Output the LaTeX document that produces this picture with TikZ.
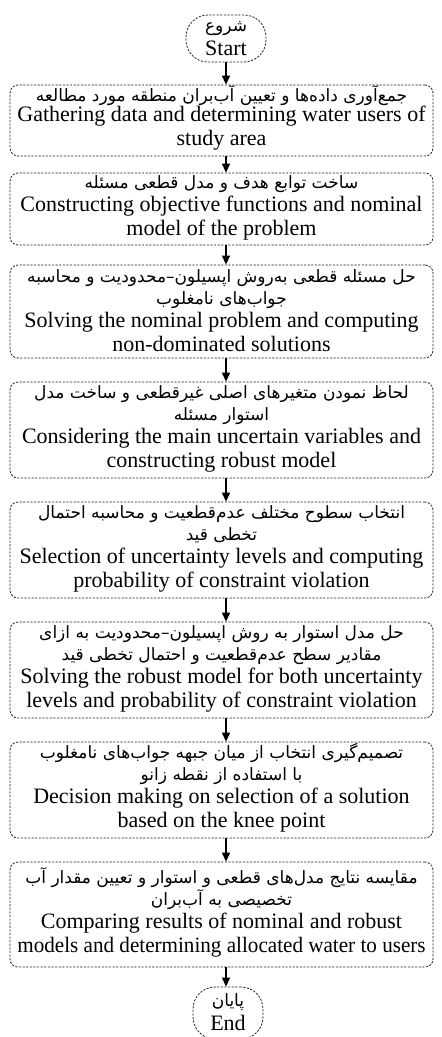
\documentclass[tikz,border=0pt]{standalone}
\usepackage{fontspec}
\setmainfont{Liberation Serif}
\newfontfamily\persianfont[Script=Arabic]{DejaVu Sans}
\TeXXeTstate=1
\usetikzlibrary{arrows.meta}
\newcommand{\FA}[1]{\rule[-6pt]{0pt}{17pt}\smash{\persianfont\fontsize{17}{20}\selectfont\beginR #1\endR}}
\tikzset{
  stepbox/.style={draw=black!85, dash pattern=on 2.2pt off 1.4pt, line width=0.8pt,
    rounded corners=8pt, minimum width=423pt, align=center, inner sep=0pt,
    font=\fontsize{22}{24}\selectfont},
  termbox/.style={draw=black!85, dash pattern=on 2.2pt off 1.4pt, line width=0.8pt,
    rounded corners=22pt, align=center, inner sep=0pt,
    font=\fontsize{22}{24}\selectfont},
  flow/.style={-{Triangle[length=9pt,width=8pt]}, line width=1.2pt}
}
\begin{document}
\begin{tikzpicture}[x=1pt,y=-1pt]
\useasboundingbox (0,0) rectangle (442,1037);
\node[termbox, minimum width=80pt, minimum height=47pt] (start) at (226,38.5)
  {\FA{شروع}\\Start};
\node[stepbox, minimum height=71pt] (b1) at (221.5,120.5)
  {\FA{جمع‌آوری داده‌ها و تعیین آب‌بران منطقه مورد مطالعه}\\[-4pt]Gathering data and determining water users of\\study area};
\node[stepbox, minimum height=72pt] (b2) at (221.5,209)
  {\FA{ساخت توابع هدف و مدل قطعی مسئله}\\[-1pt]Constructing objective functions and nominal\\model of the problem};
\node[stepbox, minimum height=93pt] (b3) at (221.5,311.5)
  {\FA{حل مسئله قطعی به‌روش اپسیلون–محدودیت و محاسبه}\\[-2pt]\FA{جواب‌های نامغلوب}\\[-1pt]Solving the nominal problem and computing\\non-dominated solutions};
\node[stepbox, minimum height=96pt] (b4) at (221.5,430)
  {\FA{لحاظ نمودن متغیرهای اصلی غیرقطعی و ساخت مدل}\\[-2pt]\FA{استوار مسئله}\\[-1pt]Considering the main uncertain variables and\\constructing robust model};
\node[stepbox, minimum height=96pt] (b5) at (221.5,550)
  {\FA{انتخاب سطوح مختلف عدم‌قطعیت و محاسبه احتمال}\\[-2pt]\FA{تخطی قید}\\[-1pt]Selection of uncertainty levels and computing\\probability of constraint violation};
\node[stepbox, minimum height=96pt] (b6) at (221.5,670)
  {\FA{حل مدل استوار به روش اپسیلون–محدودیت به ازای}\\[-2pt]\FA{مقادیر سطح عدم‌قطعیت و احتمال تخطی قید}\\[-1pt]Solving the robust model for both uncertainty\\levels and probability of constraint violation};
\node[stepbox, minimum height=96pt] (b7) at (221.5,790)
  {\FA{تصمیم‌گیری انتخاب از میان جبهه جواب‌های نامغلوب}\\[-2pt]\FA{با استفاده از نقطه زانو}\\[-1pt]Decision making on selection of a solution\\based on the knee point};
\node[stepbox, minimum height=105pt] (b8) at (221.5,914.5)
  {\FA{مقایسه نتایج مدل‌های قطعی و استوار و تعیین مقدار آب}\\[-2pt]\FA{تخصیصی به آب‌بران}\\[-1pt]Comparing results of nominal and robust\\\scalebox{0.96}[1]{models and determining allocated water to users}};
\node[termbox, minimum width=70pt, minimum height=52pt] (end) at (228,1013)
  {\FA{پایان}\\End};
\draw[flow] (start.south) -- (start.south |- b1.north);
\draw[flow] (start.south |- b1.south) -- (start.south |- b2.north);
\draw[flow] (start.south |- b2.south) -- (start.south |- b3.north);
\draw[flow] (start.south |- b3.south) -- (start.south |- b4.north);
\draw[flow] (start.south |- b4.south) -- (start.south |- b5.north);
\draw[flow] (start.south |- b5.south) -- (start.south |- b6.north);
\draw[flow] (start.south |- b6.south) -- (start.south |- b7.north);
\draw[flow] (start.south |- b7.south) -- (start.south |- b8.north);
\draw[flow] (start.south |- b8.south) -- (start.south |- end.north);
\end{tikzpicture}
\end{document}
